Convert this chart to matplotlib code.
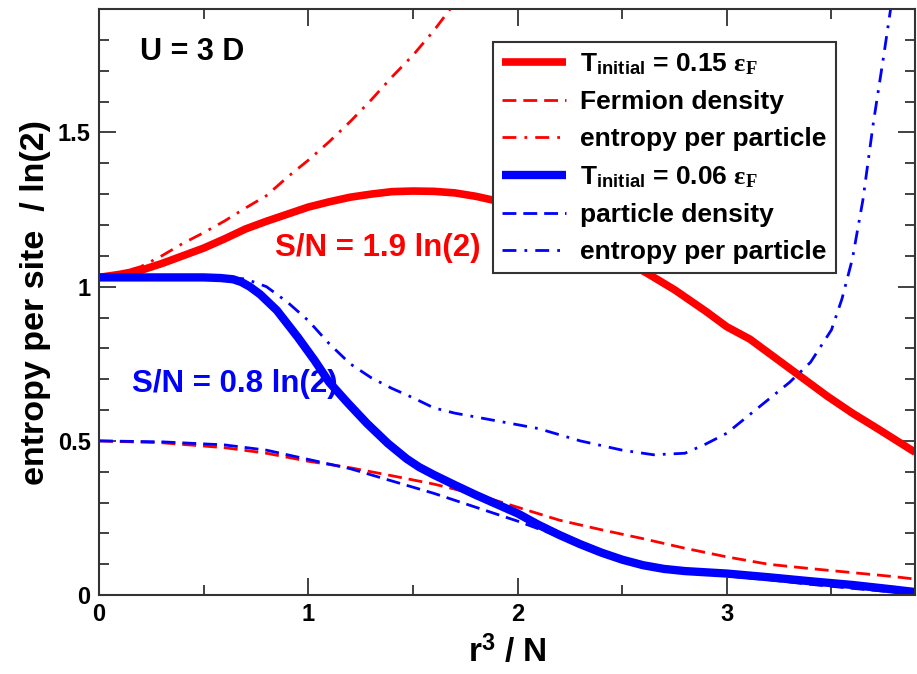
import matplotlib
matplotlib.use("Agg")
import matplotlib.pyplot as plt
from matplotlib.ticker import MultipleLocator

plt.rcParams['font.family'] = ['Liberation Sans', 'DejaVu Sans']
plt.rcParams['font.weight'] = 'bold'
plt.rcParams['mathtext.fontset'] = 'custom'
plt.rcParams['mathtext.rm'] = 'Liberation Serif'
plt.rcParams['mathtext.it'] = 'Liberation Serif:italic'
plt.rcParams['mathtext.bf'] = 'Liberation Sans:bold'

# ---- data ----
red_solid_x = [0, 0.1, 0.2, 0.3, 0.4, 0.5, 0.6, 0.7, 0.8, 0.9, 1.0, 1.1, 1.2, 1.3, 1.4, 1.5, 1.6, 1.7,
               1.8, 1.9, 2.0, 2.1, 2.2, 2.3, 2.4, 2.5, 2.62, 2.75, 2.9, 3.0, 3.11, 3.28, 3.48, 3.6, 3.72, 3.9]
red_solid_y = [1.03, 1.04, 1.053, 1.075, 1.10, 1.125, 1.155, 1.187, 1.212, 1.235, 1.258, 1.275, 1.29, 1.30, 1.308, 1.31, 1.309, 1.304,
               1.293, 1.278, 1.26, 1.235, 1.205, 1.17, 1.13, 1.09, 1.043, 0.99, 0.92, 0.87, 0.83, 0.745, 0.645, 0.59, 0.54, 0.463]

red_dashdot_x = [0, 0.1, 0.2, 0.3, 0.4, 0.5, 0.6, 0.7, 0.8, 0.9, 1.0, 1.1, 1.2, 1.3, 1.4, 1.5, 1.6, 1.7]
red_dashdot_y = [1.03, 1.045, 1.065, 1.10, 1.14, 1.175, 1.213, 1.255, 1.295, 1.355, 1.41, 1.47, 1.535, 1.605, 1.68, 1.75, 1.83, 1.92]

red_dash_x = [0, 0.3, 0.6, 0.8, 1.0, 1.2, 1.4, 1.6, 1.8, 2.0, 2.2, 2.4, 2.6, 2.8, 3.0, 3.2, 3.4, 3.6, 3.8, 3.9]
red_dash_y = [0.5, 0.494, 0.478, 0.46, 0.434, 0.413, 0.387, 0.36, 0.327, 0.285, 0.243, 0.212, 0.183, 0.152, 0.124, 0.10, 0.086, 0.073, 0.06, 0.052]

blue_solid_x = [0, 0.3, 0.5, 0.58, 0.64, 0.68, 0.72, 0.77, 0.85, 0.95, 1.03, 1.1, 1.19, 1.28, 1.38, 1.47, 1.53, 1.6, 1.7, 1.8, 1.9, 2.0,
                2.1, 2.2, 2.3, 2.4, 2.5, 2.6, 2.7, 2.8, 3.0, 3.2, 3.4, 3.6, 3.8, 3.9]
blue_solid_y = [1.03, 1.03, 1.03, 1.028, 1.024, 1.015, 1.0, 0.975, 0.923, 0.836, 0.761, 0.69, 0.622, 0.557, 0.492, 0.442, 0.415, 0.39, 0.357, 0.325, 0.295, 0.265,
                0.228, 0.195, 0.165, 0.138, 0.115, 0.097, 0.085, 0.078, 0.07, 0.058, 0.045, 0.033, 0.018, 0.01]

blue_dashdot_x = [0, 0.3, 0.6, 0.7, 0.8, 0.9, 1.0, 1.1, 1.2, 1.3, 1.4, 1.5, 1.6, 1.7, 1.9, 2.1, 2.3, 2.5, 2.65, 2.8, 2.9,
                  3.0, 3.1, 3.2, 3.3, 3.4, 3.5, 3.55, 3.6, 3.65, 3.7, 3.75, 3.8]
blue_dashdot_y = [1.03, 1.03, 1.03, 1.025, 1.0, 0.95, 0.89, 0.815, 0.75, 0.705, 0.67, 0.64, 0.607, 0.59, 0.565, 0.54, 0.50, 0.47, 0.455, 0.46, 0.49,
                  0.525, 0.58, 0.635, 0.69, 0.755, 0.86, 0.96, 1.09, 1.28, 1.53, 1.75, 1.98]

blue_dash_x = [0, 0.3, 0.6, 0.8, 1.0, 1.2, 1.4, 1.6, 1.8, 2.0, 2.2, 2.4, 2.6, 2.8, 3.0, 3.2, 3.4, 3.6, 3.8, 3.9]
blue_dash_y = [0.5, 0.497, 0.487, 0.47, 0.44, 0.41, 0.37, 0.33, 0.285, 0.24, 0.19, 0.14, 0.10, 0.075, 0.062, 0.05, 0.035, 0.022, 0.01, 0.005]

labels = [r'T$_{\mathbf{initial}}$ = 0.15 $\mathrm{\varepsilon}_{\mathrm{F}}$',
          'Fermion density', 'entropy per particle',
          r'T$_{\mathbf{initial}}$ = 0.06 $\mathrm{\varepsilon}_{\mathrm{F}}$',
          'particle density', 'entropy per particle']

RED = '#ff0000'
BLUE = '#0000ff'

fig = plt.figure(figsize=(9.17, 6.74), dpi=100)
ax = fig.add_axes([0.108, 0.117, 0.890, 0.8696])

dash = (0, (5, 2.5))
dashdot = (0, (5, 2.9, 1, 2.9))
l1, = ax.plot(red_solid_x, red_solid_y, color=RED, lw=5.5, solid_capstyle='butt', solid_joinstyle='round')
l2, = ax.plot(red_dash_x, red_dash_y, color=RED, lw=2, linestyle=dash)
l3, = ax.plot(red_dashdot_x, red_dashdot_y, color=RED, lw=2, linestyle=dashdot)
l4, = ax.plot(blue_solid_x, blue_solid_y, color=BLUE, lw=6, solid_capstyle='butt', solid_joinstyle='round')
l5, = ax.plot(blue_dash_x, blue_dash_y, color=BLUE, lw=2, linestyle=dash)
l6, = ax.plot(blue_dashdot_x, blue_dashdot_y, color=BLUE, lw=2, linestyle=dashdot)

ax.set_xlim(0, 3.9)
ax.set_ylim(0, 1.9)
ax.xaxis.set_major_locator(MultipleLocator(1))
ax.xaxis.set_minor_locator(MultipleLocator(0.5))
ax.yaxis.set_major_locator(MultipleLocator(0.5))
ax.yaxis.set_minor_locator(MultipleLocator(0.1))
ax.yaxis.set_major_formatter(plt.FuncFormatter(lambda v, p: ('%g' % v)))
ax.tick_params(which='both', direction='in', top=True, right=True, width=1.3, color='#333333')
ax.tick_params(which='major', length=12, labelsize=17, pad=6)
ax.tick_params(which='minor', length=7)
for s in ax.spines.values():
    s.set_linewidth(1.5)
    s.set_color('#333333')

ax.set_xlabel(r'r$^{\mathbf{3}}$ / N', fontsize=24, fontweight='bold', labelpad=6)
ax.set_ylabel('entropy per site  / ln(2)', fontsize=24.5, fontweight='bold', labelpad=5)

ax.text(0.196, 1.76, 'U = 3 D', fontsize=22, fontweight='bold', color='black', va='center', ha='left')
ax.text(0.842, 1.124, 'S/N = 1.9 ln(2)', fontsize=22.5, fontweight='bold', color=RED, va='center', ha='left')
ax.text(0.158, 0.683, 'S/N = 0.8 ln(2)', fontsize=22.5, fontweight='bold', color=BLUE, va='center', ha='left')

leg = ax.legend([l1, l2, l3, l4, l5, l6], labels, loc='upper left', bbox_to_anchor=(0.483, 0.944),
                borderaxespad=0, fancybox=False, framealpha=1, edgecolor='#333333',
                prop={'weight': 'bold', 'size': 19}, handlelength=2.4, handletextpad=0.55,
                labelspacing=0.5, borderpad=0.35)
leg.get_frame().set_linewidth(1.5)

fig.savefig('out.png', dpi=100)
